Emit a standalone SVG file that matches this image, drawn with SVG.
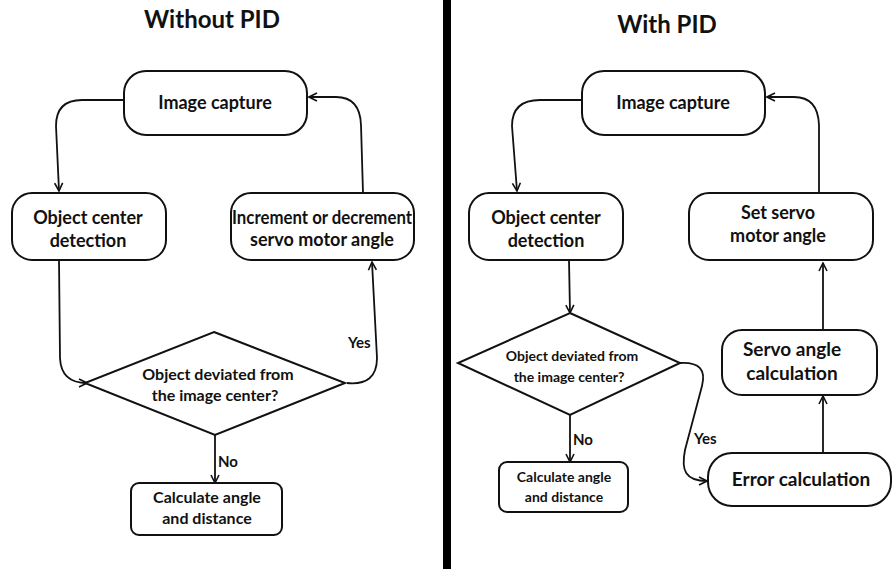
<svg xmlns="http://www.w3.org/2000/svg" width="893" height="569" viewBox="0 0 893 569">
<defs>
<style>
text{font-family:Lato,"Open Sans","Liberation Sans",sans-serif;font-weight:bold;fill:#111;text-anchor:middle}
.box{fill:#fff;stroke:#111;stroke-width:2}
.title{font-size:24px}
.n17{font-size:18px}
.n18{font-size:19px}
.n15{font-size:16px}
.n13{font-size:14px}
.lbl{font-size:15px;text-anchor:start}
.con path{fill:none;stroke:#111;stroke-width:1.8;marker-end:url(#arr)}
</style>
<marker id="arr" viewBox="0 0 10 10" refX="9" refY="5" markerWidth="10" markerHeight="10" orient="auto" markerUnits="userSpaceOnUse">
<path d="M1,1 L9,5 L1,9" fill="none" stroke="#111" stroke-width="1.6"/>
</marker>
</defs>
<rect width="893" height="569" fill="#fff"/>
<rect x="443" y="0" width="8" height="569" fill="#000"/>
<text class="title" x="212" y="28">Without PID</text>
<text class="title" x="667" y="33">With PID</text>

<g class="con">
<path d="M124,100 L82,100 Q56,100 56,126 L59,191"/>
<path d="M363,193 L361,125 Q360,97 336,97 L309,97"/>
<path d="M59,260 L60,358 Q61,383 87,383"/>
<path d="M347,383 Q377,386 377,358 L372,262"/>
<path d="M215,435 L215,483"/>
<path d="M582,100 L540,100 Q512,100 512,126 L517,191"/>
<path d="M819,193 L819,125 Q818,97 794,97 L767,97"/>
<path d="M569,260 L570,313"/>
<path d="M680,363 C700,362 706,370 702,386 L685,450 C681,470 685,481 707,481"/>
<path d="M570,415 L570,462"/>
<path d="M823,453 L823,396"/>
<path d="M823,330 L823,263"/>
</g>
<g id="labels">
<text class="lbl" x="348" y="348">Yes</text>
<text class="lbl" x="218" y="467">No</text>
<text class="lbl" x="694" y="444">Yes</text>
<text class="lbl" x="573" y="445">No</text>
</g>

<g id="l-capture">
<rect class="box" x="124" y="71" width="183" height="64" rx="22"/>
<text class="n17" x="215" y="109">Image capture</text>
</g>
<g id="l-detect">
<rect class="box" x="12" y="193" width="154" height="67" rx="20"/>
<text class="n17" x="88" y="224">Object center</text>
<text class="n17" x="88" y="247">detection</text>
</g>
<g id="l-incr">
<rect class="box" x="231" y="193" width="183" height="67" rx="20"/>
<text class="n17" x="322" y="224" textLength="180" lengthAdjust="spacingAndGlyphs">Increment or decrement</text>
<text class="n17" x="322" y="246">servo motor angle</text>
</g>
<g id="l-decision">
<polygon class="box" points="214,332 345,383 215,435 85,383"/>
<text class="n15" x="218" y="380">Object deviated from</text>
<text class="n15" x="215" y="401">the image center?</text>
</g>
<g id="l-calc">
<rect class="box" x="131" y="483" width="151" height="52" rx="8"/>
<text class="n15" x="207" y="503">Calculate angle</text>
<text class="n15" x="207" y="524">and distance</text>
</g>

<g id="r-capture">
<rect class="box" x="582" y="71" width="183" height="64" rx="22"/>
<text class="n17" x="673" y="109">Image capture</text>
</g>
<g id="r-detect">
<rect class="box" x="469" y="193" width="154" height="67" rx="20"/>
<text class="n17" x="546" y="224">Object center</text>
<text class="n17" x="546" y="247">detection</text>
</g>
<g id="r-set">
<rect class="box" x="689" y="193" width="184" height="67" rx="20"/>
<text class="n17" x="778" y="219">Set servo</text>
<text class="n17" x="778" y="242">motor angle</text>
</g>
<g id="r-decision">
<polygon class="box" points="570,313 680,363 570,415 458,363"/>
<text class="n13" x="572" y="361">Object deviated from</text>
<text class="n13" x="569" y="382">the image center?</text>
</g>
<g id="r-calc">
<rect class="box" x="499" y="462" width="129" height="50" rx="8"/>
<text class="n13" x="564" y="482">Calculate angle</text>
<text class="n13" x="564" y="502">and distance</text>
</g>
<g id="r-servo">
<rect class="box" x="722" y="330" width="155" height="65" rx="20"/>
<text class="n18" x="792" y="356">Servo angle</text>
<text class="n18" x="792" y="380">calculation</text>
</g>
<g id="r-error">
<rect class="box" x="708" y="453" width="183" height="53" rx="24"/>
<text class="n18" x="801" y="486">Error calculation</text>
</g>
</svg>
